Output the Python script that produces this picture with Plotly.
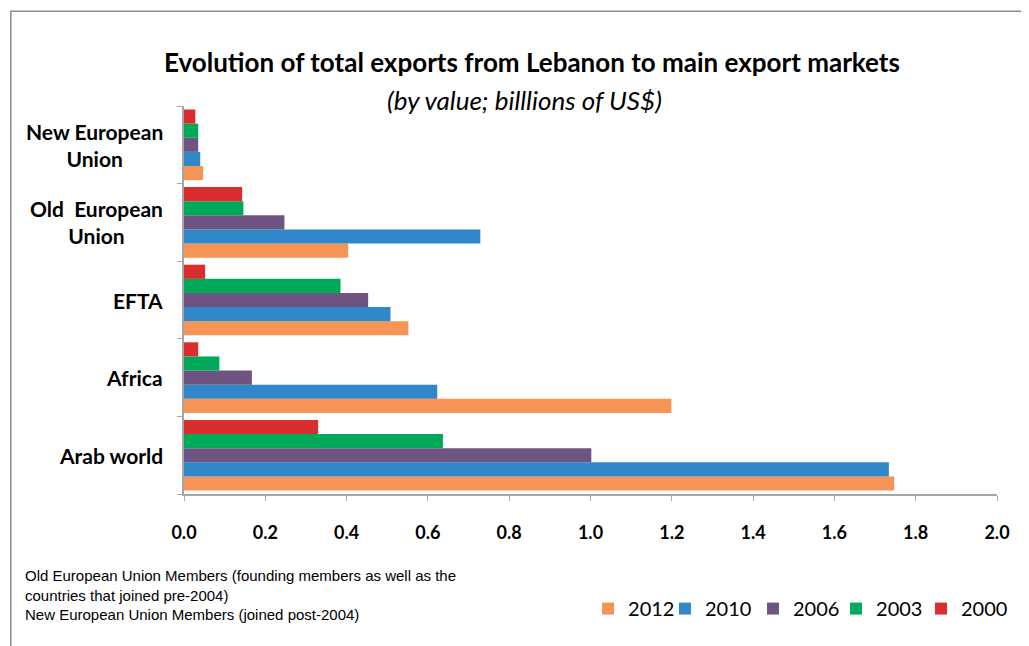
import plotly.graph_objects as go

# categories bottom -> top
markets = ["Arab world", "Africa", "EFTA", "Old EU", "New EU"]
market_labels = ["Arab world", "Africa", "EFTA", "Old  European<br>Union", "New European<br>Union"]

years = ["2012", "2010", "2006", "2003", "2000"]
exports = {
    "2012": [1.747, 1.199, 0.552, 0.404, 0.047],
    "2010": [1.734, 0.623, 0.508, 0.729, 0.040],
    "2006": [1.002, 0.167, 0.453, 0.247, 0.035],
    "2003": [0.637, 0.087, 0.385, 0.146, 0.035],
    "2000": [0.330, 0.035, 0.052, 0.143, 0.028],
}
colors = {
    "2012": "#F59454",
    "2010": "#3188C9",
    "2006": "#6E5482",
    "2003": "#00A95A",
    "2000": "#D92D2E",
}

font = "Lato"

# one small legend per year so the entries sit where the original puts them
legend_x = [0.497, 0.5916, 0.6999, 0.802, 0.9065]
legend_names = ["legend"] + [f"legend{i}" for i in range(2, len(years) + 1)]

fig = go.Figure()
for yr, lg in zip(years, legend_names):
    fig.add_trace(go.Bar(
        x=exports[yr], y=markets, name=yr, orientation="h",
        marker=dict(color=colors[yr], line=dict(width=0)),
        legend=lg,
    ))

# category labels, centred lines like the original
annotations = []
for m, lab in zip(markets, market_labels):
    annotations.append(dict(
        x=0, y=m, xref="paper", yref="y", text=lab, showarrow=False,
        xanchor="right", align="center", xshift=-19,
        font=dict(family=font, size=21, color="black", weight="bold"),
    ))

# title and subtitle
annotations.append(dict(
    x=0.428, y=1.0, xref="paper", yref="paper", yanchor="middle", yshift=44,
    text="<b>Evolution of total exports from Lebanon to main export markets</b>",
    showarrow=False, font=dict(family=font, size=26, color="black"),
))
annotations.append(dict(
    x=0.428, y=1.0, xref="paper", yref="paper", yanchor="middle", yshift=6,
    xshift=-7,
    text="<i>(by value; billlions of US$)</i>",
    showarrow=False, font=dict(family=font, size=26, color="black"),
))

# footnote
annotations.append(dict(
    x=-0.198, y=-0.183, xref="paper", yref="paper", xanchor="left", yanchor="top",
    align="left", showarrow=False,
    text=("Old European Union Members (founding members as well as the<br>"
          "countries that joined pre-2004)<br>"
          "New European Union Members (joined post-2004)"),
    font=dict(family="Liberation Sans", size=15, color="black"),
))

fig.update_layout(
    width=1029, height=646,
    margin=dict(l=176, r=40, t=98, b=160),
    paper_bgcolor="white", plot_bgcolor="white",
    barmode="group", bargap=0.09, bargroupgap=0,
    showlegend=True,
    annotations=annotations,
    shapes=[dict(
        type="rect", xref="paper", yref="paper",
        x0=-0.213, x1=1.5, y0=-1.0, y1=1.244,
        line=dict(color="#8C8C8C", width=1.5),
    )],
    xaxis=dict(
        range=[0, 2.0], dtick=0.2, tickformat=".1f",
        showgrid=False, zeroline=False,
        showline=True, linecolor="#A6A6A6", linewidth=1.5,
        ticks="outside", ticklen=5, tickcolor="#A6A6A6",
        ticklabelstandoff=17,
        tickfont=dict(family=font, size=18, color="black", weight="bold"),
    ),
    yaxis=dict(
        showticklabels=False, showgrid=False, zeroline=False,
        showline=True, linecolor="#A6A6A6", linewidth=1.5,
        ticks="outside", ticklen=5, tickcolor="#A6A6A6",
        tickson="boundaries",
    ),
)

for lg, lx in zip(legend_names, legend_x):
    fig.update_layout({lg: dict(
        orientation="h", x=lx, xanchor="left", y=-0.245, yanchor="top",
        font=dict(family=font, size=20, color="black"),
        bgcolor="rgba(0,0,0,0)", itemwidth=30,
    )})

fig.write_html("out.html")
